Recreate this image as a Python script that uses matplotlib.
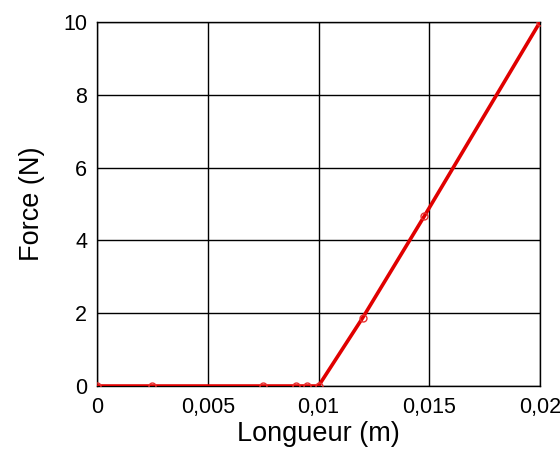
import matplotlib
matplotlib.use("Agg")
import matplotlib.pyplot as plt
from matplotlib.ticker import FuncFormatter

plt.rcParams['font.family'] = ['Liberation Sans', 'DejaVu Sans']

longueur = [0.0, 0.0025, 0.0075, 0.009, 0.0095, 0.01, 0.012, 0.01477, 0.02]
force = [0.0, 0.0, 0.0, 0.0, 0.0, 0.0, 1.88, 4.66, 10.0]
xticks = [0, 0.005, 0.01, 0.015, 0.02]
yticks = [0, 2, 4, 6, 8, 10]

fig = plt.figure(figsize=(5.6, 4.55), dpi=100)
ax = fig.add_axes([0.1732, 0.1516, 0.7911, 0.8000])
ax.plot(longueur, force, color='#e00000', lw=2.6, zorder=3)
ax.plot(longueur, force, ls='none', marker='o', ms=5, mfc='none', mec='#e83030', mew=1.0, zorder=4)
ax.set_xlim(0, 0.02)
ax.set_ylim(0, 10)
ax.set_xticks(xticks)
ax.set_yticks(yticks)
ax.xaxis.set_major_formatter(FuncFormatter(lambda v, p: ('%g' % v).replace('.', ',')))
ax.yaxis.set_major_formatter(FuncFormatter(lambda v, p: '%g' % v))
ax.tick_params(axis='both', length=0, labelsize=15.5)
ax.tick_params(axis='y', pad=7)
ax.tick_params(axis='x', pad=8)
ax.grid(True, color='black', lw=1.0)
for s in ax.spines.values():
    s.set_linewidth(1.0)
    s.set_color('black')
ax.set_xlabel('Longueur (m)', fontsize=19.5, labelpad=2)
ax.set_ylabel('Force (N)', fontsize=19.5, labelpad=13)
for lab in ax.get_xticklabels() + ax.get_yticklabels():
    lab.set_clip_on(False)
fig.savefig('out.png', dpi=100)
